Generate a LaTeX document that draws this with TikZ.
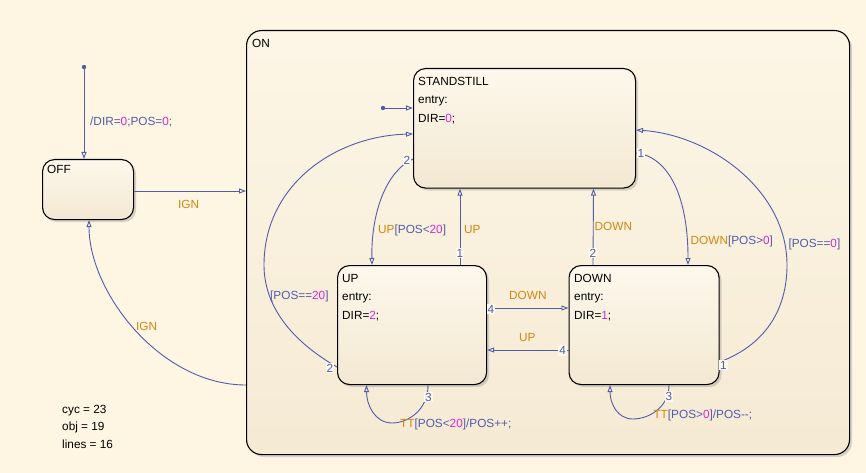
\documentclass[tikz,border=0pt]{standalone}
\usepackage{fontspec}
\setmainfont{Liberation Sans}
\usetikzlibrary{arrows.meta,shadows,calc}
\definecolor{bg}{RGB}{254,245,226}
\definecolor{boxtop}{RGB}{253,248,236}
\definecolor{boxbot}{RGB}{243,232,210}
\definecolor{ontop}{RGB}{253,246,230}
\definecolor{onbot}{RGB}{245,234,212}
\definecolor{ln}{RGB}{82,92,168}
\definecolor{evc}{RGB}{210,135,15}
\definecolor{nmc}{RGB}{218,40,200}
\newcommand{\evt}[1]{\textcolor{evc}{#1}}
\newcommand{\nmb}[1]{\textcolor{nmc}{#1}}
\begin{document}
\begin{tikzpicture}[x=1pt,y=-1pt,
  font=\fontsize{11.8}{14}\selectfont,
  statebox/.style={draw=black, line width=1.1pt, rounded corners=12pt,
    top color=boxtop, bottom color=boxbot, anchor=north west, inner sep=0pt,
    drop shadow={shadow xshift=2.5pt, shadow yshift=-2.5pt, opacity=0.3}},
  txt/.style={anchor=base west, inner sep=0pt},
  lbl/.style={anchor=west, inner sep=0pt, text height=8.5pt, text depth=0pt, text=ln},
  num/.style={inner sep=1pt, text height=8.5pt, text depth=0pt, text=ln, fill=boxtop},
  tr/.style={draw=ln, line width=0.9pt, -{Triangle[open,length=7pt,width=5pt]}},
  ln0/.style={draw=ln, line width=0.9pt},
  ]
\fill[bg] (0,0) rectangle (866,473);
\useasboundingbox (0,0) rectangle (866,473);

% superstate ON
\node[statebox, rounded corners=15pt, top color=ontop, bottom color=onbot,
  minimum width=603pt, minimum height=424pt] (on) at (246,30) {};
\node[txt] (onname) at (252,47.5) {ON};

% states
\node[statebox, minimum width=91pt, minimum height=60pt] (off) at (42,159) {};
\node[txt] (offname) at (47,174) {OFF};

\node[statebox, minimum width=222pt, minimum height=119.5pt] (st) at (413,68) {};
\node[txt] (stname) at (418,85.5) {STANDSTILL};
\node[txt] (stentry) at (418,104) {entry:};
\node[txt] (stdir) at (418,122.7) {DIR=\nmb{0};};

\node[statebox, minimum width=149pt, minimum height=119pt] (up) at (337,265) {};
\node[txt] (upname) at (342,282.5) {UP};
\node[txt] (upentry) at (342,300.5) {entry:};
\node[txt] (updir) at (342,319) {DIR=\nmb{2};};

\node[statebox, minimum width=150pt, minimum height=119pt] (down) at (568.5,265) {};
\node[txt] (downname) at (574,282.5) {DOWN};
\node[txt] (downentry) at (574,300.5) {entry:};
\node[txt] (downdir) at (574,319) {DIR=\nmb{1};};

% default transitions
\coordinate (dotoff) at (84,67);
\fill[ln] (dotoff) circle (2.2);
\draw[tr] (dotoff) -- ($(off.north west)+(42,0)$);
\node[lbl] (deflbl) at (90,121) {/DIR=\nmb{0};POS=\nmb{0};};

\coordinate (dotst) at (383,108);
\fill[ln] (dotst) circle (2.2);
\draw[tr] (dotst) -- ($(st.north west)+(0,40)$);

% OFF -> ON
\draw[tr] ($(off.north east)+(0,32)$) -- ($(on.north west)+(0,161)$);
\node[lbl, text=evc] (ign1) at (178,204) {IGN};

% ON -> OFF
\draw[tr] ($(on.north west)+(0,355)$) .. controls (160,385) and (89,292) .. ($(off.south west)+(47,0)$);
\node[lbl, text=evc] (ign2) at (136,326) {IGN};

% UP -> STANDSTILL
\draw[tr] ($(up.north west)+(123,0)$) -- ($(st.south west)+(47,0)$);
\node[num] (n1) at (460,253) {1};
\node[lbl, text=evc] (l1) at (464,229) {UP};

% STANDSTILL -> UP
\draw[tr] ($(st.north west)+(0,91)$) .. controls (385,172) and (371,215) .. ($(up.north west)+(35,0)$);
\node[num] (n2) at (407,160) {2};
\node[lbl] (l2) at (378,229) {\evt{UP}[POS<\nmb{20}]};

% UP -> STANDSTILL [POS==20]
\draw[tr] ($(up.north west)+(0,102)$) .. controls (290,340) and (264,305) .. (264,265)
  .. controls (264,185) and (335,136) .. ($(st.north west)+(0,66)$);
\node[num] (n3) at (330,368) {2};
\node[lbl] (l3) at (270,295) {[POS==\nmb{20}]};

% STANDSTILL -> DOWN
\draw[tr] ($(st.north east)+(0,85)$) .. controls (665,156) and (688,190) .. ($(down.north west)+(119.5,0)$);
\node[num] (n4) at (641,153) {1};
\node[lbl] (l4) at (690.5,240.7) {\evt{DOWN}[POS>\nmb{0}]};

% DOWN -> STANDSTILL
\draw[tr] ($(down.north west)+(24.5,0)$) -- ($(st.south west)+(180.5,0)$);
\node[num] (n5) at (593,253) {2};
\node[lbl, text=evc] (l5) at (594.5,226.7) {DOWN};

% DOWN -> STANDSTILL [POS==0]
\draw[tr] ($(down.north east)+(0,97)$) .. controls (765,345) and (787,310) .. (787,265)
  .. controls (787,190) and (710,135) .. ($(st.north east)+(0,62)$);
\node[num] (n6) at (723.5,365) {1};
\node[lbl] (l6) at (788.3,243.3) {[POS==\nmb{0}]};

% UP -> DOWN
\draw[tr] ($(up.north east)+(0,43)$) -- ($(down.north west)+(0,43)$);
\node[num] (n7) at (491,309) {4};
\node[lbl, text=evc] (l7) at (509,295.7) {DOWN};

% DOWN -> UP
\draw[tr] ($(down.north west)+(0,85)$) -- ($(up.north east)+(0,85)$);
\node[num] (n8) at (562.7,350.5) {4};
\node[lbl, text=evc] (l8) at (519,337) {UP};

% UP self loop
\draw[tr] ($(up.south west)+(91,0)$) .. controls (428,410) and (408,423) .. (392,423)
  .. controls (375,423) and (366.5,405) .. ($(up.south west)+(29.5,0)$);
\node[num] (n9) at (428.5,397) {3};
\node[lbl] (l9) at (400,423.3) {\evt{TT}[POS<\nmb{20}]/POS++;};

% DOWN self loop
\draw[tr] ($(down.south west)+(100.5,0)$) .. controls (669,408) and (648,419) .. (633,419)
  .. controls (617,419) and (610,403) .. ($(down.south west)+(41.5,0)$);
\node[num] (n10) at (669,396.7) {3};
\node[lbl] (l10) at (653.3,414) {\evt{TT}[POS>\nmb{0}]/POS-{}-;};

% stats
\node[txt] (cyc) at (62,413.3) {cyc = 23};
\node[txt] (obj) at (62,430.7) {obj = 19};
\node[txt] (lines) at (62,448.3) {lines = 16};
\end{tikzpicture}
\end{document}
